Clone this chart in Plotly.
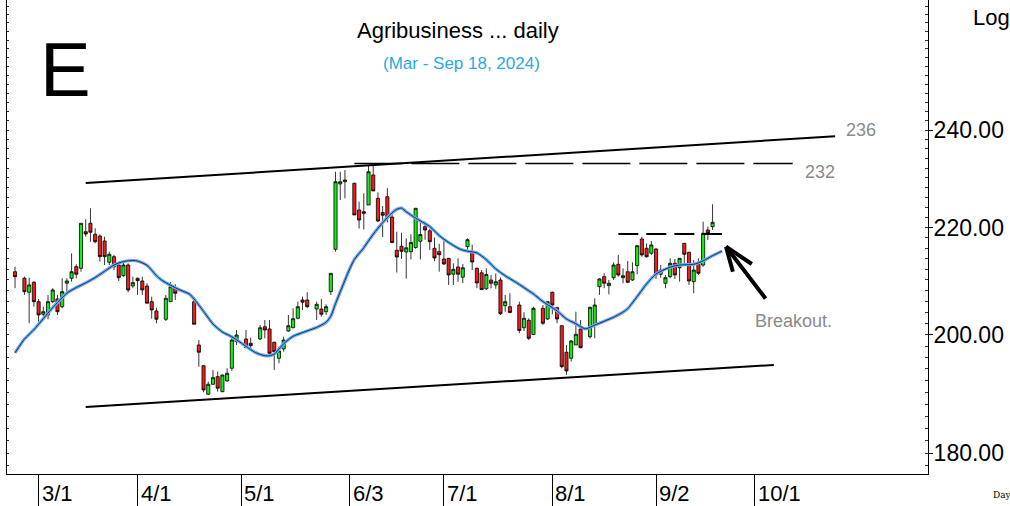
import math
import pandas as pd
import plotly.graph_objects as go

# ---------------- data ----------------
dates = ["02-23","02-27","02-28","02-29","03-01","03-04","03-05","03-06","03-07","03-08",
         "03-11","03-12","03-13","03-14","03-15","03-18","03-19","03-20","03-21","03-22",
         "03-25","03-26","03-27","03-28","03-29","04-01","04-02","04-03","04-04","04-05",
         "04-09","04-10","04-11","04-17","04-18","04-19","04-22","04-23","04-24","04-25",
         "04-26","04-29","04-30","05-02","05-03","05-07","05-08","05-09","05-10","05-13",
         "05-14","05-15","05-16","05-17","05-20","05-21","05-23","05-24","05-27","05-28",
         "05-29","05-30","05-31","06-04","06-05","06-06","06-07","06-10","06-11","06-12",
         "06-13","06-14","06-17","06-18","06-19","06-20","06-21","06-24","06-25","06-26",
         "06-27","06-28","07-01","07-02","07-03","07-04","07-05","07-08","07-09","07-10",
         "07-11","07-12","07-15","07-16","07-17","07-18","07-19","07-23","07-24","07-25",
         "07-26","07-30","07-31","08-01","08-02","08-05","08-06","08-07","08-08","08-09",
         "08-13","08-14","08-15","08-16","08-19","08-20","08-21","08-22","08-23","08-26",
         "08-27","08-28","08-29","08-30","09-02","09-03","09-04","09-05","09-06","09-09",
         "09-10","09-11","09-12","09-13","09-16","09-17","09-18"]
opens = [211.55,210.33,207.71,209.57,205.98,203.68,203.56,205.98,206.48,205.06,
         209.39,210.32,212.50,212.19,219.23,220.87,218.72,218.39,217.42,213.33,
         214.40,212.82,210.80,212.82,208.88,210.32,209.81,208.88,205.98,204.28,
         202.77,205.98,208.46,205.98,198.19,194.57,189.68,191.38,192.68,190.12,
         191.94,194.12,198.77,199.25,198.49,199.25,201.44,201.03,198.67,195.86,
         197.49,200.67,201.26,202.96,206.29,206.29,204.64,204.64,204.15,207.83,
         215.82,228.74,229.20,228.88,223.50,223.16,224.50,230.58,225.84,223.01,
         226.17,222.11,215.62,216.41,215.30,215.36,216.16,217.36,220.21,219.40,
         216.01,215.36,213.96,214.09,211.08,212.44,210.52,216.32,215.36,212.19,
         211.35,208.36,210.00,209.07,210.00,205.25,205.06,205.37,201.26,202.60,
         200.03,204.77,202.83,207.71,204.88,201.62,196.91,195.86,198.19,201.03,
         199.66,201.75,208.75,210.62,208.94,210.43,212.95,210.43,211.55,210.00,
         212.69,217.80,216.01,215.05,215.88,211.07,209.39,210.62,213.14,212.30,
         216.97,215.24,209.68,213.33,212.82,219.56,220.21]
highs = [212.50,210.62,210.43,209.81,206.48,205.06,207.22,208.46,207.22,210.32,
         210.32,215.05,212.95,220.87,221.66,223.84,219.89,218.72,218.25,215.36,
         214.73,213.45,213.45,213.14,210.62,210.43,210.62,209.39,206.90,204.88,
         207.22,209.57,209.20,206.72,199.07,194.70,191.82,193.83,193.54,192.97,
         194.12,199.66,200.85,200.85,199.48,201.75,202.65,202.65,198.77,197.89,
         199.66,203.56,204.77,205.98,206.90,207.71,205.98,206.48,205.50,211.25,
         231.25,231.25,231.60,229.00,225.16,226.85,232.64,232.64,227.02,224.30,
         227.89,222.85,219.23,219.01,217.94,218.74,223.84,221.13,221.23,219.76,
         218.10,216.88,217.51,214.15,213.14,214.09,213.01,217.94,216.70,212.35,
         211.87,212.19,210.94,211.22,210.47,207.22,207.53,205.98,204.04,202.96,
         205.06,205.37,205.98,207.83,205.06,201.75,198.19,199.07,204.15,202.65,
         205.06,206.60,210.32,211.25,210.00,213.33,214.73,212.19,213.58,213.33,
         216.65,218.25,216.97,217.42,216.01,212.82,210.94,214.09,213.96,214.09,
         216.97,215.36,213.77,214.09,221.19,220.21,224.64]
lows = [208.46,207.22,202.06,205.06,202.34,203.25,202.77,205.69,203.56,204.77,
        207.22,209.68,210.32,211.55,218.25,217.28,216.97,213.45,212.82,212.82,
        211.87,209.81,210.62,207.71,208.46,207.22,207.22,205.69,202.88,202.06,
        202.47,205.98,206.29,201.88,194.40,190.02,189.57,191.26,190.12,190.02,
        191.82,193.66,198.19,197.66,197.61,199.07,199.37,196.44,193.83,194.99,
        197.01,200.55,201.16,202.77,204.46,204.77,202.65,203.25,203.56,207.22,
        215.36,225.50,225.84,222.51,219.85,219.66,224.50,227.32,221.13,218.19,
        221.03,216.97,211.40,213.96,210.24,213.87,215.93,213.87,217.67,215.68,
        213.52,211.55,212.82,209.07,209.07,209.68,209.44,215.78,211.87,208.46,
        208.20,208.14,208.42,208.36,203.56,204.15,203.86,200.26,200.67,199.07,
        199.96,201.75,202.65,203.68,202.06,194.12,192.97,195.27,198.19,197.61,
        199.37,199.37,207.22,208.46,207.34,210.00,210.62,209.39,209.39,209.81,
        211.07,214.40,214.21,214.73,210.19,210.43,208.46,210.32,210.19,209.68,
        212.82,209.07,207.53,210.94,212.50,217.61,219.56]
closes = [210.62,207.83,209.07,205.98,203.56,204.15,205.98,208.14,204.15,207.83,
          209.81,211.55,211.07,220.87,218.78,219.11,217.28,214.40,214.40,214.86,
          212.50,210.43,212.82,208.14,209.50,209.87,208.14,205.69,204.46,202.78,
          206.60,208.75,207.53,201.88,196.91,190.41,191.38,192.51,190.70,192.97,
          193.26,199.07,199.96,197.71,198.07,201.26,200.85,196.73,197.01,197.14,
          199.07,201.62,202.88,205.06,205.87,205.06,205.50,203.68,205.06,211.25,
          229.20,229.20,229.55,222.51,221.52,222.85,231.25,227.32,221.32,222.45,
          221.92,217.13,214.34,215.43,216.10,217.13,223.84,218.68,219.56,217.28,
          214.15,214.78,213.01,210.94,212.00,211.08,212.29,217.67,213.39,209.44,
          208.20,211.03,209.39,209.67,203.79,205.98,204.01,200.76,202.96,199.37,
          204.77,202.06,205.98,205.37,202.83,194.40,193.66,198.89,200.08,197.71,
          204.95,205.37,210.19,209.39,209.39,212.82,210.94,210.80,209.57,211.55,
          216.51,214.73,214.40,216.65,210.94,211.87,210.43,213.14,210.94,214.09,
          214.86,209.81,211.87,211.25,218.92,218.92,221.07]

ma_dates = ["02-23","02-27","02-29","03-04","03-06","03-11","03-13","03-15","03-19","03-21",
            "03-25","03-27","03-29","04-01","04-03","04-05","04-08","04-10","04-12","04-16",
            "04-17","04-19","04-23","04-25","04-29","05-01","05-06","05-08","05-09","05-10",
            "05-14","05-16","05-21","05-23","05-27","05-28","05-29","05-30","06-03","06-04",
            "06-06","06-10","06-12","06-14","06-17","06-18","06-19","06-21","06-26","06-28",
            "07-02","07-04","07-05","07-08","07-10","07-12","07-16","07-18","07-22","07-24",
            "07-26","07-30","08-02","08-06","08-08","08-12","08-14","08-16","08-20","08-22",
            "08-23","08-27","08-29","09-02","09-05","09-09","09-12","09-16","09-18","09-20"]
ma_values = [196.82,199.23,200.92,202.89,204.90,207.55,208.59,209.46,210.45,211.63,
             212.82,213.47,213.67,213.58,212.76,210.82,210.04,209.00,208.14,207.38,
             206.47,204.21,201.93,200.49,199.64,198.54,196.86,196.31,196.30,196.58,
             198.42,199.73,200.69,201.31,202.25,203.34,205.61,207.79,212.06,213.87,
             216.12,218.74,220.99,222.93,223.64,223.88,223.16,221.88,220.25,218.46,
             217.13,216.04,215.66,215.45,215.13,213.83,212.08,210.79,209.72,208.57,
             207.40,206.00,204.30,202.83,201.97,201.05,201.73,202.42,203.14,204.08,
             204.71,206.92,209.26,211.12,212.40,212.82,212.95,213.60,214.59,215.47]

tick_dates = ["03-01","04-01","05-01","06-03","07-01","08-01","09-02","10-01"]
tick_labels = ["3/1","4/1","5/1","6/3","7/1","8/1","9/2","10/1"]
price_ticks = [180, 200, 220, 240]

upper_channel_dates = ["03-15", "10-24"]
upper_channel_values = [228.92, 238.68]
lower_channel_dates = ["03-15", "10-07"]
lower_channel_values = [187.54, 194.70]
resistance_dates = ["06-04", "10-11"]
resistance_values = [232.95, 232.95]
breakout_dates = ["08-21", "09-20"]
breakout_values = [218.78, 218.78]

# ---------------- weekday slot axis ----------------
cal = pd.bdate_range("2024-01-02", "2024-12-31")
slot_of = {d.strftime("%m-%d"): i for i, d in enumerate(cal)}
origin = slot_of["03-01"]


def slots(ds):
    return [slot_of[d] - origin for d in ds]


FONT = "Liberation Sans, Arial, sans-serif"
GREEN = "#14ee14"
RED = "#f21c1c"

fig = go.Figure()

fig.add_trace(go.Scatter(x=slots(upper_channel_dates), y=upper_channel_values, mode="lines",
                         line=dict(color="black", width=2), hoverinfo="skip", showlegend=False))
fig.add_trace(go.Scatter(x=slots(lower_channel_dates), y=lower_channel_values, mode="lines",
                         line=dict(color="black", width=2), hoverinfo="skip", showlegend=False))
fig.add_trace(go.Scatter(x=slots(resistance_dates), y=resistance_values, mode="lines",
                         line=dict(color="black", width=1.3, dash="48px,9px"),
                         hoverinfo="skip", showlegend=False))
fig.add_trace(go.Scatter(x=slots(breakout_dates), y=breakout_values, mode="lines",
                         line=dict(color="black", width=2, dash="20px,8px"),
                         hoverinfo="skip", showlegend=False))

# moving average (pink / cyan / navy strands)
for col, w in (("#e070ee", 3.2), ("#22d0f0", 2.2), ("#1c2f5e", 1.0)):
    fig.add_trace(go.Scatter(x=slots(ma_dates), y=ma_values, mode="lines",
                             line=dict(color=col, width=w, shape="spline", smoothing=0.6),
                             hoverinfo="skip", showlegend=False))

fig.add_trace(go.Candlestick(
    x=slots(dates), open=opens, high=highs, low=lows, close=closes,
    increasing=dict(line=dict(color="black", width=0.8), fillcolor=GREEN),
    decreasing=dict(line=dict(color="black", width=0.8), fillcolor=RED),
    whiskerwidth=0, showlegend=False))

# invisible helper to show the left frame axis
fig.add_trace(go.Scatter(x=[0], y=[200], yaxis="y2", mode="markers",
                         marker=dict(opacity=0), hoverinfo="skip", showlegend=False))

XR = [-6.705, 188.71]
YR = [2.247187, 2.430482]
minor_vals = list(range(176, 272, 2))

fig.update_layout(
    width=1010, height=506, autosize=False,
    margin=dict(l=7, r=82, t=0, b=32),
    paper_bgcolor="white", plot_bgcolor="white",
    font=dict(family=FONT, color="black"),
    showlegend=False,
    boxgap=0.05,
    xaxis=dict(range=XR, showgrid=False, zeroline=False, showline=True,
               linecolor="black", linewidth=1, ticks="outside", ticklen=32,
               tickcolor="black", tickwidth=1, tickmode="array",
               tickvals=slots(tick_dates), showticklabels=False,
               rangeslider=dict(visible=False)),
    yaxis=dict(type="log", range=YR, side="right", showgrid=False, zeroline=False,
               showline=True, linecolor="black", linewidth=1,
               tickmode="array", tickvals=price_ticks,
               ticktext=[f"{v:.2f}" for v in price_ticks],
               ticks="outside", ticklen=4, tickcolor="black",
               tickfont=dict(size=23, color="black", family=FONT),
               ticklabelstandoff=-4,
               minor=dict(tickmode="array", tickvals=minor_vals, ticks="inside",
                          ticklen=3, tickcolor="#333333", showgrid=False)),
    yaxis2=dict(type="log", range=YR, overlaying="y", side="left", showgrid=False,
                zeroline=False, showline=True, linecolor="black", linewidth=1,
                tickmode="array", tickvals=minor_vals, ticks="inside", ticklen=2,
                tickcolor="#333333", showticklabels=False),
)

PX0, PW, PH = 7, 921, 474


def px(xp):
    return (xp - PX0) / PW


def py(yp):
    return (PH - yp) / PH


ann = []
for d, lab in zip(tick_dates, tick_labels):
    ann.append(dict(x=slots([d])[0], y=py(493), xref="x", yref="paper", text=lab,
                    showarrow=False, xanchor="left", yanchor="middle", xshift=1,
                    font=dict(size=22, color="black", family=FONT)))

ann += [
    dict(x=px(458), y=py(30), text="Agribusiness ... daily", font=dict(size=22, color="black")),
    dict(x=px(461), y=py(63), text="(Mar - Sep 18, 2024)", font=dict(size=17, color="#29a9e6")),
    dict(x=px(65), y=py(69), text="E", font=dict(size=76, color="black")),
    dict(x=px(971), y=py(18), text="Log", xanchor="left", font=dict(size=22, color="black")),
    dict(x=px(844), y=py(130), text="236", xanchor="left", font=dict(size=18, color="#8a8a8a")),
    dict(x=px(803), y=py(172), text="232", xanchor="left", font=dict(size=18, color="#8a8a8a")),
    dict(x=px(753), y=py(321), text="Breakout.", xanchor="left", font=dict(size=18, color="#8a8a8a")),
    dict(x=px(991), y=py(495), text="Day", xanchor="left",
         font=dict(size=9, color="black", family="DejaVu Serif, serif")),
]
for a in ann[len(tick_dates):]:
    a.update(xref="paper", yref="paper", showarrow=False)
    a.setdefault("xanchor", "center")
    a["yanchor"] = "middle"
    a["font"].setdefault("family", FONT)

# arrow (shaft + two wings) pointing at the breakout
tip = (726, 246.7)
for tail in ((766.7, 300), (753.3, 265), (733.3, 273.3)):
    ann.append(dict(x=px(tip[0]), y=py(tip[1]), xref="paper", yref="paper", text="",
                    showarrow=True, arrowhead=0, arrowwidth=4, arrowcolor="black",
                    ax=tail[0] - tip[0], ay=tail[1] - tip[1], standoff=0, startstandoff=0))

fig.update_layout(annotations=ann)

fig.write_html("out.html", config={"displayModeBar": False},
               post_script="document.body.style.margin='0';")
